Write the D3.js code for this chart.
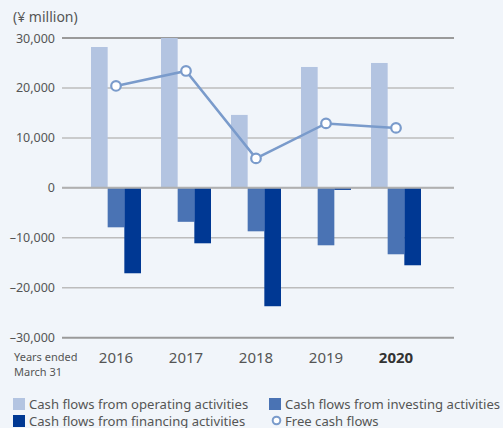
<!DOCTYPE html>
<html>
<head>
<meta charset="utf-8">
<script src="https://cdn.jsdelivr.net/npm/d3@7"></script>
<style>
  html, body { margin: 0; padding: 0; background: #f1f5fa; }
  svg { display: block; font-family: "Noto Sans", "Open Sans", sans-serif; }
</style>
</head>
<body>
<svg id="chart" width="503" height="428"></svg>
<script>
// Cash flow summary, ¥ million, fiscal years ended March 31
const years = ["2016", "2017", "2018", "2019", "2020"];
const operating = [28200, 30000, 14600, 24200, 25000];
const investing = [-7900, -6800, -8700, -11500, -13300];
const financing = [-17100, -11100, -23700, -400, -15500];
const freeCashFlow = [20400, 23400, 5900, 12900, 12000];
const yTicks = [30000, 20000, 10000, 0, -10000, -20000, -30000];
const seriesNames = ["Cash flows from operating activities", "Cash flows from investing activities",
                     "Cash flows from financing activities", "Free cash flows"];
const seriesColors = ["#b3c4e1", "#4a73b4", "#003893"];
const lineColor = "#7a9bcb";

const svg = d3.select("#chart");

const plotLeft = 62, plotRight = 454;
const y = d3.scaleLinear().domain([-30000, 30000]).range([337.7, 38]);
const x = d3.scaleBand().domain(years).range([81, 431]).padding(0);
const inner = d3.scaleBand().domain([0, 1, 2]).range([10, 60]).padding(0);

const fmt = v => (v < 0 ? "\u2013" : "") + d3.format(",")(Math.abs(v));

// Gridlines
const grid = svg.append("g");
grid.selectAll("line").data(yTicks).join("line")
  .attr("x1", plotLeft).attr("x2", plotRight)
  .attr("y1", d => y(d)).attr("y2", d => y(d))
  .attr("stroke", d => (Math.abs(d) === 30000 ? "#9a9a9a" : "#bcbcbc"))
  .attr("stroke-width", d => (Math.abs(d) === 30000 ? 2 : 1.5));

// Y axis labels
const yAxis = svg.append("g").attr("transform", `translate(${plotLeft - 4},0)`)
  .call(d3.axisLeft(y).tickValues(yTicks).tickFormat(fmt).tickSize(0));
yAxis.select(".domain").remove();
yAxis.selectAll("text").attr("fill", "#555").attr("font-size", 12.5)
  .attr("font-family", "'Noto Sans', sans-serif");

// Bars
const seriesData = [operating, investing, financing];
seriesData.forEach((vals, si) => {
  svg.append("g").selectAll("rect").data(vals).join("rect")
    .attr("x", (d, i) => x(years[i]) + inner(si))
    .attr("width", inner.bandwidth())
    .attr("y", d => y(Math.max(0, d)))
    .attr("height", d => Math.abs(y(d) - y(0)))
    .attr("fill", seriesColors[si]);
});

// Zero line on top of bars
svg.append("line")
  .attr("x1", plotLeft).attr("x2", plotRight)
  .attr("y1", y(0)).attr("y2", y(0))
  .attr("stroke", "#b0b0b0").attr("stroke-width", 2);

// Free cash flow line with hollow markers
const cx = (d, i) => x(years[i]) + x.bandwidth() / 2;
svg.append("path")
  .datum(freeCashFlow)
  .attr("d", d3.line().x(cx).y(d => y(d)))
  .attr("fill", "none").attr("stroke", lineColor).attr("stroke-width", 2.5);
svg.append("g").selectAll("circle").data(freeCashFlow).join("circle")
  .attr("cx", cx).attr("cy", d => y(d)).attr("r", 4.8)
  .attr("fill", "#fff").attr("stroke", lineColor).attr("stroke-width", 2.2);

// Year labels
const xAxis = svg.append("g").attr("transform", "translate(0,363)")
  .call(d3.axisBottom(x).tickSize(0).tickPadding(0));
xAxis.select(".domain").remove();
xAxis.selectAll("text")
  .attr("dy", 0).attr("y", 0)
  .attr("fill", (d) => (d === "2020" ? "#333" : "#555"))
  .attr("font-weight", d => (d === "2020" ? "bold" : "normal"))
  .attr("font-size", 15)
  .attr("font-family", "'Noto Sans', sans-serif");

// Unit label
svg.append("text").attr("x", 13).attr("y", 22)
  .attr("fill", "#555").attr("font-size", 14).text("(\u00a5 million)");

// Fiscal year note
const note = svg.append("text").attr("fill", "#555").attr("font-size", 11)
  .attr("font-family", "'Liberation Sans Narrow', 'Noto Sans', sans-serif");
note.append("tspan").attr("x", 14).attr("y", 361).text("Years ended");
note.append("tspan").attr("x", 14).attr("y", 376).text("March 31");

// Legend
const legendItems = [
  { name: seriesNames[0], kind: "rect", color: seriesColors[0], x: 13, y: 398 },
  { name: seriesNames[1], kind: "rect", color: seriesColors[1], x: 269, y: 398 },
  { name: seriesNames[2], kind: "rect", color: seriesColors[2], x: 13, y: 415 },
  { name: seriesNames[3], kind: "circle", color: lineColor, x: 269, y: 415 }
];
const legend = svg.append("g");
legendItems.forEach(it => {
  if (it.kind === "rect") {
    legend.append("rect").attr("x", it.x).attr("y", it.y).attr("width", 12).attr("height", 12)
      .attr("fill", it.color);
  } else {
    legend.append("circle").attr("cx", it.x + 7.5).attr("cy", it.y + 5.5).attr("r", 3.8)
      .attr("fill", "#fff").attr("stroke", it.color).attr("stroke-width", 2);
  }
  legend.append("text").attr("x", it.x + 16).attr("y", it.y + 11.3)
    .attr("fill", "#555").attr("font-size", 13.1).text(it.name);
});
</script>
</body>
</html>
